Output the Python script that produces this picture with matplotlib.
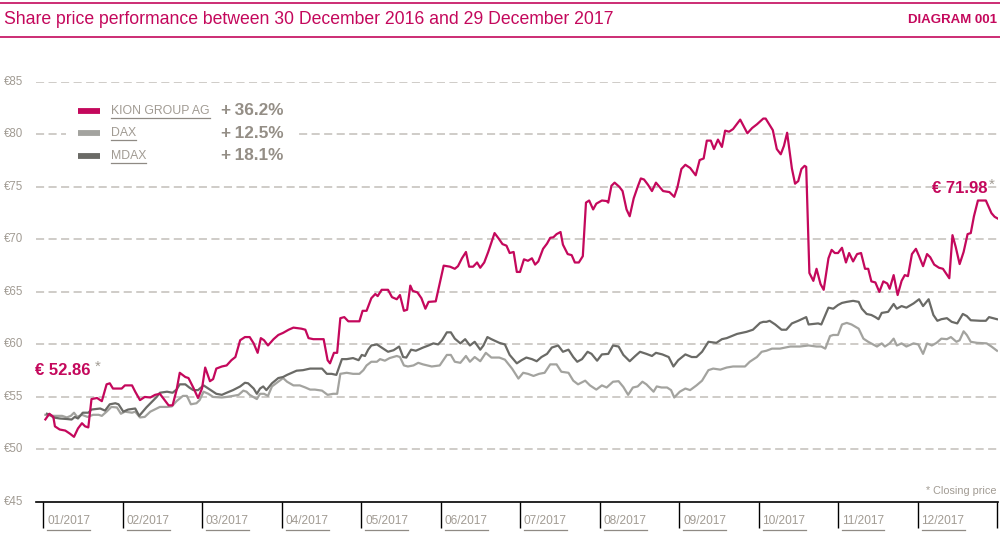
import numpy as np
import matplotlib
matplotlib.use("Agg")
import matplotlib.pyplot as plt
from matplotlib.transforms import blended_transform_factory

plt.rcParams["font.family"] = ["Liberation Sans", "DejaVu Sans"]

# ── data: x in months since 30 Dec 2016 (month bands 0..12), value in EUR ──
KION_M = [0.03, 0.08, 0.13, 0.15, 0.21, 0.28, 0.34, 0.39, 0.44, 0.49, 0.53, 0.57, 0.61, 0.68, 0.74, 0.80,
          0.84, 0.88, 0.99, 1.03, 1.12, 1.16, 1.22, 1.28, 1.35, 1.41, 1.47, 1.51, 1.58, 1.63, 1.68, 1.72,
          1.79, 1.83, 1.89, 1.95, 2.00, 2.04, 2.10, 2.14, 2.18, 2.25, 2.31, 2.37, 2.42, 2.48, 2.54, 2.60,
          2.65, 2.70, 2.74, 2.78, 2.83, 2.90, 2.96, 3.02, 3.09, 3.15, 3.25, 3.30, 3.34, 3.40, 3.53, 3.58,
          3.61, 3.66, 3.70, 3.74, 3.79, 3.84, 3.98, 4.02, 4.07, 4.13, 4.18, 4.21, 4.26, 4.34, 4.39, 4.45,
          4.49, 4.54, 4.58, 4.62, 4.65, 4.71, 4.76, 4.81, 4.85, 4.94, 5.04, 5.12, 5.18, 5.22, 5.27, 5.32,
          5.36, 5.41, 5.46, 5.50, 5.55, 5.60, 5.68, 5.73, 5.78, 5.83, 5.87, 5.92, 5.96, 6.00, 6.05, 6.10,
          6.15, 6.19, 6.23, 6.29, 6.34, 6.38, 6.42, 6.46, 6.51, 6.54, 6.60, 6.65, 6.69, 6.74, 6.79, 6.83,
          6.87, 6.92, 6.96, 7.03, 7.09, 7.11, 7.15, 7.19, 7.25, 7.29, 7.34, 7.38, 7.43, 7.48, 7.52, 7.56,
          7.61, 7.66, 7.71, 7.80, 7.88, 7.94, 7.98, 8.03, 8.08, 8.14, 8.21, 8.26, 8.31, 8.35, 8.40, 8.44,
          8.49, 8.54, 8.58, 8.63, 8.68, 8.77, 8.86, 8.92, 8.98, 9.06, 9.09, 9.18, 9.23, 9.28, 9.32, 9.36,
          9.42, 9.46, 9.50, 9.54, 9.58, 9.60, 9.64, 9.69, 9.73, 9.78, 9.82, 9.88, 9.92, 9.96, 10.00, 10.05,
          10.10, 10.14, 10.19, 10.24, 10.29, 10.34, 10.38, 10.42, 10.47, 10.52, 10.57, 10.62, 10.65, 10.70,
          10.75, 10.80, 10.84, 10.88, 10.93, 10.98, 11.02, 11.07, 11.12, 11.16, 11.21, 11.27, 11.32, 11.40,
          11.44, 11.48, 11.53, 11.58, 11.63, 11.67, 11.71, 11.76, 11.86, 11.93, 11.97, 12.01]
KION_V = [52.86, 53.4, 53.1, 52.2, 51.9, 51.8, 51.5, 51.2, 52.0, 52.5, 52.2, 52.1, 54.8, 54.9, 54.6, 56.2,
          56.3, 55.8, 55.8, 56.1, 56.1, 55.5, 54.7, 55.0, 54.95, 55.2, 55.3, 54.9, 54.2, 54.2, 55.65, 57.3,
          56.9, 56.8, 55.9, 54.9, 55.8, 57.8, 56.5, 56.7, 57.7, 57.9, 58.0, 58.5, 58.8, 60.4, 60.7, 60.7,
          60.1, 59.2, 60.6, 60.4, 59.9, 60.5, 60.9, 61.1, 61.4, 61.6, 61.5, 61.4, 60.6, 60.5, 60.5, 58.5,
          58.2, 59.2, 59.2, 62.5, 62.6, 62.2, 62.2, 63.2, 63.2, 64.4, 64.8, 64.6, 65.2, 65.2, 64.5, 64.3,
          64.7, 63.2, 63.3, 65.6, 65.1, 64.95, 64.4, 63.4, 64.05, 64.1, 67.5, 67.4, 67.2, 67.45, 68.2, 68.8,
          67.4, 67.4, 67.8, 67.3, 67.8, 68.8, 70.6, 70.1, 69.55, 69.4, 68.7, 68.8, 66.9, 66.9, 68.1, 67.96,
          68.2, 67.6, 67.9, 69.1, 69.6, 70.15, 70.2, 70.5, 70.7, 69.5, 68.6, 68.5, 67.8, 67.8, 68.4, 73.5,
          73.7, 72.85, 73.4, 73.7, 73.65, 73.5, 75.1, 75.4, 75.0, 74.6, 72.85, 72.2, 73.9, 75.0, 75.8, 75.7,
          75.2, 74.6, 75.4, 74.6, 74.5, 74.05, 74.95, 76.7, 77.1, 76.8, 76.1, 77.55, 77.7, 79.4, 79.4, 78.6,
          79.5, 78.8, 80.35, 80.25, 80.5, 81.4, 80.1, 80.6, 80.95, 81.5, 81.5, 80.4, 78.6, 78.1, 78.9, 80.15,
          76.75, 75.3, 75.55, 76.7, 77.0, 76.9, 66.8, 66.05, 67.2, 65.75, 65.2, 68.2, 69.0, 68.7, 68.7, 69.2,
          67.8, 68.7, 67.9, 68.6, 68.7, 67.2, 67.2, 66.0, 65.9, 65.0, 66.0, 65.8, 65.3, 66.6,
          64.7, 66.05, 66.6, 66.5, 68.6, 69.1, 68.4, 67.45, 68.6, 68.3, 67.6, 67.3, 67.2, 66.3,
          70.4, 69.3, 67.65, 68.8, 70.5, 70.6, 72.2, 73.7, 73.7, 72.5, 72.15, 71.98]

MDAX_M = [0.05, 0.09, 0.13, 0.21, 0.30, 0.36, 0.40, 0.44, 0.50, 0.57, 0.61, 0.72, 0.78, 0.84, 0.91, 0.95,
          1.01, 1.07, 1.16, 1.21, 1.30, 1.43, 1.47, 1.56, 1.63, 1.68, 1.72, 1.79, 1.84, 1.89, 1.95, 2.02,
          2.10, 2.18, 2.25, 2.31, 2.39, 2.48, 2.54, 2.58, 2.65, 2.69, 2.73, 2.77, 2.81, 2.88, 2.96, 3.02,
          3.07, 3.13, 3.19, 3.27, 3.36, 3.51, 3.57, 3.63, 3.69, 3.76, 3.82, 3.90, 3.97, 4.01, 4.05, 4.09,
          4.13, 4.20, 4.24, 4.30, 4.34, 4.41, 4.48, 4.53, 4.57, 4.63, 4.69, 4.78, 4.85, 4.91, 4.97, 5.02,
          5.08, 5.13, 5.18, 5.25, 5.31, 5.37, 5.43, 5.50, 5.54, 5.59, 5.64, 5.74, 5.81, 5.87, 5.96, 6.02,
          6.08, 6.15, 6.21, 6.27, 6.34, 6.40, 6.48, 6.54, 6.61, 6.67, 6.72, 6.78, 6.85, 6.90, 6.97, 7.03,
          7.11, 7.17, 7.24, 7.30, 7.38, 7.45, 7.51, 7.59, 7.66, 7.71, 7.79, 7.87, 7.93, 7.99, 8.08, 8.16,
          8.22, 8.29, 8.37, 8.47, 8.54, 8.60, 8.73, 8.85, 8.93, 9.02, 9.06, 9.10, 9.14, 9.21, 9.29, 9.35,
          9.42, 9.50, 9.60, 9.63, 9.75, 9.79, 9.84, 9.88, 9.94, 10.00, 10.05, 10.11, 10.19, 10.26, 10.30, 10.36,
          10.42, 10.47, 10.51, 10.55, 10.63, 10.70, 10.74, 10.80, 10.86, 10.95, 11.02, 11.07, 11.14, 11.20,
          11.25, 11.30, 11.37, 11.43, 11.50, 11.57, 11.62, 11.67, 11.79, 11.86, 11.90, 11.95, 12.00]
MDAX_V = [53.4, 53.3, 53.05, 52.95, 52.9, 52.85, 53.1, 52.95, 53.5, 53.5, 53.8, 53.9, 53.7, 54.3, 54.4, 54.3,
          53.6, 53.8, 53.9, 53.2, 54.0, 55.0, 55.4, 55.5, 55.4, 55.7, 56.2, 56.2, 55.9, 55.65, 55.65, 56.1,
          55.7, 55.3, 55.2, 55.4, 55.65, 56.0, 56.35, 56.3, 55.8, 55.3, 55.8, 56.0, 55.65, 56.3, 56.8, 56.9,
          57.1, 57.3, 57.5, 57.55, 57.7, 57.7, 57.2, 57.2, 57.1, 58.6, 58.6, 58.7, 58.5, 59.0, 58.9, 59.5,
          59.9, 60.0, 59.8, 59.5, 59.3, 59.45, 59.8, 58.8, 58.75, 59.5, 59.4, 59.7, 59.9, 60.1, 60.0, 60.4,
          61.15, 61.15, 60.55, 60.1, 60.5, 59.9, 60.25, 59.5, 59.9, 60.7, 60.5, 60.15, 60.0, 59.0, 58.2, 58.5,
          58.75, 58.6, 58.4, 58.8, 59.1, 59.7, 59.9, 59.3, 59.5, 58.8, 58.35, 58.6, 59.3, 59.1, 58.45, 59.05,
          59.1, 59.9, 59.8, 59.0, 58.4, 58.9, 59.3, 59.1, 58.9, 59.2, 59.05, 58.8, 57.9, 58.5, 59.05, 58.8,
          58.8, 59.3, 60.25, 60.15, 60.5, 60.6, 61.0, 61.2, 61.4, 62.05, 62.15, 62.15, 62.25, 61.9, 61.4, 61.4,
          62.0, 62.25, 62.6, 61.9, 62.0, 61.9, 62.8, 63.5, 63.4, 63.75, 63.95, 64.05, 64.15, 64.05, 63.4, 62.9,
          62.8, 62.6, 62.4, 63.0, 63.1, 63.85, 63.4, 63.65, 63.5, 63.9, 64.3, 63.65, 64.3, 62.8,
          62.25, 62.4, 62.5, 62.15, 62.0, 62.9, 62.7, 62.3, 62.25, 62.25, 62.6, 62.5, 62.4]

DAX_M = [0.03, 0.13, 0.24, 0.30, 0.35, 0.39, 0.43, 0.49, 0.56, 0.63, 0.70, 0.74, 0.80, 0.86, 0.93, 0.98,
         1.03, 1.12, 1.16, 1.22, 1.28, 1.35, 1.43, 1.47, 1.56, 1.62, 1.68, 1.76, 1.81, 1.86, 1.93, 1.97,
         2.02, 2.08, 2.14, 2.25, 2.31, 2.39, 2.46, 2.52, 2.56, 2.60, 2.69, 2.73, 2.78, 2.83, 2.88, 2.96,
         3.02, 3.07, 3.15, 3.23, 3.30, 3.36, 3.42, 3.51, 3.58, 3.65, 3.70, 3.74, 3.82, 3.90, 3.98, 4.03,
         4.07, 4.13, 4.20, 4.24, 4.30, 4.36, 4.45, 4.49, 4.54, 4.59, 4.66, 4.72, 4.78, 4.89, 4.99, 5.08,
         5.13, 5.18, 5.25, 5.32, 5.37, 5.43, 5.50, 5.57, 5.64, 5.74, 5.81, 5.90, 5.98, 6.04, 6.10, 6.17,
         6.24, 6.31, 6.38, 6.46, 6.52, 6.61, 6.67, 6.73, 6.82, 6.88, 6.96, 7.03, 7.09, 7.17, 7.24, 7.30,
         7.36, 7.42, 7.48, 7.54, 7.59, 7.68, 7.72, 7.78, 7.85, 7.90, 7.94, 8.01, 8.08, 8.14, 8.22, 8.29,
         8.37, 8.43, 8.52, 8.60, 8.68, 8.83, 8.89, 8.98, 9.04, 9.10, 9.17, 9.27, 9.40, 9.52, 9.63, 9.73,
         9.79, 9.84, 9.90, 9.94, 10.00, 10.05, 10.11, 10.17, 10.26, 10.32, 10.38, 10.44, 10.49, 10.55, 10.59, 10.65,
         10.70, 10.74, 10.80, 10.86, 10.95, 11.01, 11.07, 11.12, 11.18, 11.24, 11.30, 11.37, 11.42, 11.49,
         11.53, 11.58, 11.62, 11.67, 11.75, 11.87, 11.93, 12.00]
DAX_V = [53.3, 53.2, 53.2, 53.05, 53.2, 53.5, 53.1, 53.3, 53.1, 53.3, 53.3, 53.2, 53.6, 54.05, 54.0, 53.4,
         53.6, 53.5, 53.6, 53.05, 53.1, 53.6, 53.9, 54.05, 54.05, 54.1, 54.6, 55.1, 55.1, 54.3, 54.4, 54.7,
         55.5, 55.3, 55.0, 54.95, 55.0, 55.1, 55.2, 55.6, 55.5, 55.2, 54.8, 55.3, 55.3, 55.1, 56.0, 56.45,
         56.8, 56.45, 56.1, 56.1, 55.9, 55.7, 55.7, 55.6, 55.2, 55.3, 55.3, 57.2, 57.3, 57.2, 57.2, 57.55,
         58.0, 58.35, 58.35, 58.6, 58.45, 58.7, 58.9, 58.8, 58.0, 57.9, 58.0, 58.25, 58.1, 57.9, 58.0, 59.0,
         59.0, 58.35, 58.25, 58.9, 58.35, 58.8, 58.4, 59.2, 58.75, 58.75, 58.55, 57.7, 56.75, 57.3, 57.2, 57.0,
         57.2, 57.3, 58.1, 58.1, 57.4, 57.3, 56.55, 56.2, 56.55, 56.1, 55.7, 56.1, 55.9, 56.45, 56.5, 55.95,
         55.2, 55.9, 56.0, 56.45, 56.2, 55.5, 56.0, 55.9, 55.9, 55.65, 54.95, 55.5, 55.8, 55.65, 56.1, 56.55,
         57.55, 57.7, 57.6, 57.8, 57.9, 57.9, 58.35, 58.8, 59.3, 59.4, 59.6, 59.6, 59.8, 59.8, 59.9, 59.8,
         59.8, 59.6, 60.8, 60.9, 60.9, 61.9, 62.05, 61.9, 61.5, 60.55, 60.25, 60.0, 59.8, 60.1, 59.8, 60.1,
         60.55, 59.9, 60.1, 59.8, 60.1, 60.0, 59.1, 60.1, 59.9, 60.15, 60.55, 60.5, 60.7, 60.25,
         60.4, 61.25, 60.9, 60.25, 60.15, 60.1, 59.8, 59.4]

MONTHS = ["01/2017", "02/2017", "03/2017", "04/2017", "05/2017", "06/2017",
          "07/2017", "08/2017", "09/2017", "10/2017", "11/2017", "12/2017"]
Y_TICKS = [45, 50, 55, 60, 65, 70, 75, 80, 85]
NAMES = ["KION GROUP AG", "DAX", "MDAX"]
CHANGES = ["+\u200936.2%", "+\u200912.5%", "+\u200918.1%"]

CRIMSON = "#c4085c"
LIGHT = "#a3a39f"
DARK = "#6a6a66"
TXT = "#a19b93"
GRID = "#c2beb9"

W, H = 1000, 538
fig = plt.figure(figsize=(W / 100, H / 100), dpi=100)

def fx(px): return px / W
def fy(py): return 1 - py / H

# header
fig.add_artist(plt.Line2D([0, 1], [fy(2.5), fy(2.5)], color=CRIMSON, lw=1.2))
fig.add_artist(plt.Line2D([0, 1], [fy(37), fy(37)], color=CRIMSON, lw=1.2))
fig.text(fx(4), fy(20), "Share price performance between 30 December 2016 and 29 December 2017",
         color=CRIMSON, fontsize=12.7, va="center", ha="left")
fig.text(fx(997), fy(20), "DIAGRAM 001", color=CRIMSON, fontsize=9.5, fontweight="bold",
         va="center", ha="right")

ax = fig.add_axes([fx(36), fy(502), fx(998) - fx(36), fy(81.8) - fy(502)])
ax.set_xlim(-7 / 79.5, 955 / 79.5)
ax.set_ylim(45, 85)
for s in ["top", "right", "left"]:
    ax.spines[s].set_visible(False)
ax.spines["bottom"].set_color("black")
ax.spines["bottom"].set_linewidth(1.2)
ax.set_yticks([])
ax.set_xticks(range(13))
ax.set_xticklabels([])
ax.tick_params(axis="x", length=18.5, width=1, color="black", direction="out")

# grid
for v in Y_TICKS[1:]:
    ax.axhline(v, color=GRID, lw=1.1, ls=(0, (5.3, 2.9)), zorder=1)
ytr = blended_transform_factory(fig.transFigure, ax.transData)
for v in Y_TICKS:
    ax.text(fx(4), v, f"€{v}", transform=ytr, color=TXT, fontsize=8.3, va="center", ha="left")

# series
ax.plot(DAX_M, DAX_V, color=LIGHT, lw=1.6, zorder=3, solid_joinstyle="round")
ax.plot(MDAX_M, MDAX_V, color=DARK, lw=1.6, zorder=4, solid_joinstyle="round")
ax.plot(KION_M, KION_V, color=CRIMSON, lw=1.6, zorder=5, solid_joinstyle="round")

# start / end labels
ax.annotate(f"€ {KION_V[0]:.2f}", xy=(KION_M[0], KION_V[0]), xytext=(-7.5, 35.5),
            textcoords="offset points", color=CRIMSON, fontsize=12, fontweight="bold",
            ha="left", va="center")
ax.annotate("*", xy=(KION_M[0], KION_V[0]), xytext=(35.5, 38), textcoords="offset points",
            color=TXT, fontsize=11, ha="left", va="center")
ax.annotate(f"€ {KION_V[-1]:.2f}", xy=(KION_M[-1], KION_V[-1]), xytext=(-7.5, 22),
            textcoords="offset points", color=CRIMSON, fontsize=12, fontweight="bold",
            ha="right", va="center")
ax.annotate("*", xy=(KION_M[-1], KION_V[-1]), xytext=(-6.5, 24.5), textcoords="offset points",
            color=TXT, fontsize=11, ha="left", va="center")

fig.text(fx(997), fy(491.5), "* Closing price", color=TXT, fontsize=7.8, ha="right", va="center")

# legend with white backing
fig.add_artist(plt.Rectangle((fx(66), fy(166)), fx(296) - fx(66), fy(96) - fy(166),
                             facecolor="white", edgecolor="none", zorder=2))
rows_y = [110.5, 133, 155.5]
sw_colors = [CRIMSON, LIGHT, DARK]
name_texts = []
for yy, nm, ch, c in zip(rows_y, NAMES, CHANGES, sw_colors):
    fig.add_artist(plt.Line2D([fx(78), fx(100)], [fy(yy), fy(yy)], color=c, lw=4.2,
                              solid_capstyle="butt", zorder=3))
    name_texts.append(fig.text(fx(111), fy(yy), nm, color=TXT, fontsize=8.8, va="center",
                               ha="left", zorder=3))
    fig.text(fx(221), fy(yy), ch, color="#948e86", fontsize=12.4, fontweight="bold",
             va="center", ha="left", zorder=3)

# month labels
xtr = blended_transform_factory(ax.transData, fig.transFigure)
month_texts = []
for i, m in enumerate(MONTHS):
    month_texts.append(ax.text(i + 4 / 79.5, fy(521.5), m, transform=xtr, color=TXT,
                               fontsize=8.6, ha="left", va="center"))

# underlines below legend names and month labels
fig.canvas.draw()
r = fig.canvas.get_renderer()
for t, gap in [(tt, 7.5) for tt in name_texts] + [(tt, 8.5) for tt in month_texts]:
    bb = t.get_window_extent(r)
    yline = fy(H - (bb.y0 + bb.y1) / 2) - gap / H
    fig.add_artist(plt.Line2D([bb.x0 / W, bb.x1 / W], [yline, yline], color="#8f8a84", lw=0.9,
                              zorder=3))

fig.savefig("out.png", dpi=100)
